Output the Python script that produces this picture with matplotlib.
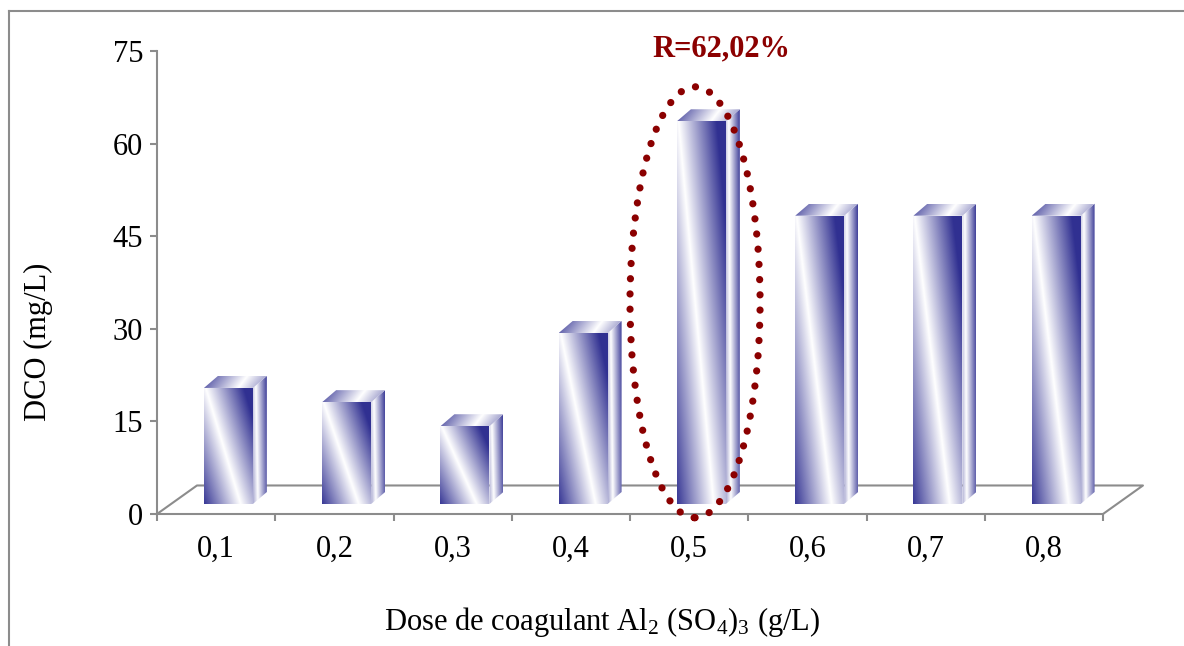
import numpy as np
import matplotlib.pyplot as plt
from matplotlib.patches import Polygon, Ellipse
from matplotlib.lines import Line2D

plt.rcParams['font.family'] = ['Liberation Serif', 'DejaVu Serif']
plt.rcParams['mathtext.fontset'] = 'custom'
plt.rcParams['mathtext.rm'] = 'Liberation Serif'
plt.rcParams['mathtext.it'] = 'Liberation Serif:italic'

# data
doses = ['0,1', '0,2', '0,3', '0,4', '0,5', '0,6', '0,7', '0,8']
dco = [18.8, 16.5, 12.6, 27.7, 62.0, 46.7, 46.7, 46.7]
yticks = [0, 15, 30, 45, 60, 75]
best = 4
best_label = 'R=62,02%'

gray = '#8c8c8c'
red = '#8b0000'
dark = np.array([0.19, 0.19, 0.57])


def shade(t):
    t = np.clip(t, 0, 1)[..., None]
    return 1 - t * (1 - dark)


def front_col(u, v):
    us = 0.75 - 0.72 * v
    return shade(np.abs(u - us) / 0.78)


def side_col(u, v):
    us = 0.35 - 0.15 * v
    return shade(np.abs(u - us) / 0.85)


def top_col(u, v):
    us = 0.7 - 0.1 * v
    return shade(np.abs(u - us) / 0.95)


def fill_grad(ax, p0, e1, e2, fn, z=3):
    p0 = np.array(p0, float); e1 = np.array(e1, float); e2 = np.array(e2, float)
    corners = np.array([p0, p0 + e1, p0 + e1 + e2, p0 + e2])
    xmin, ymin = corners.min(0)
    xmax, ymax = corners.max(0)
    X, Y = np.meshgrid(np.linspace(xmin, xmax, 120), np.linspace(ymin, ymax, 240))
    inv = np.linalg.inv(np.array([e1, e2]).T)
    dx = X - p0[0]
    dy = Y - p0[1]
    u = inv[0, 0] * dx + inv[0, 1] * dy
    v = inv[1, 0] * dx + inv[1, 1] * dy
    im = ax.imshow(fn(u, v), extent=[xmin, xmax, ymin, ymax], origin='lower',
                   aspect='auto', interpolation='bilinear', zorder=z)
    poly = Polygon(corners, closed=True, fc='none', ec='none')
    ax.add_patch(poly)
    im.set_clip_path(poly)


fig = plt.figure(figsize=(11.84, 6.46), dpi=100)
ax = fig.add_axes([157 / 1184, 132 / 646, 946 / 1184, 463 / 646])

# floor
fdx, fdy = 0.338, 4.62
n = len(doses)
ax.plot([0, fdx, n + fdx, n], [0, fdy, fdy, 0], color=gray, lw=1.5,
        clip_on=False, zorder=1)

# bars
left, width = 0.397, 0.414
ddx, ddy = 0.118, 1.94
base = 1.62
for i, val in enumerate(dco):
    x0 = i + left
    fill_grad(ax, (x0, base), (width, 0), (0, val), front_col)
    fill_grad(ax, (x0 + width, base), (ddx, ddy), (0, val), side_col)
    fill_grad(ax, (x0, base + val), (width, 0), (ddx, ddy), top_col)

# highlight
ell = Ellipse((best + 0.55, 34.3), 1.10, 69.8, fill=False, ec=red, lw=5.2,
              linestyle=(0, (0.01, 2.1)), capstyle='round', clip_on=False, zorder=6)
ax.add_patch(ell)
ax.text(best + 0.77, 75.3, best_label, color=red, fontsize=22, fontweight='bold',
        ha='center', va='center', clip_on=False)

ax.set_xlim(0, n)
ax.set_ylim(0, 75)
for s in ['top', 'right']:
    ax.spines[s].set_visible(False)
for s in ['left', 'bottom']:
    ax.spines[s].set_color(gray)
    ax.spines[s].set_linewidth(1.5)
ax.set_yticks(yticks)
ax.tick_params(axis='y', direction='out', length=5, width=1.5, color=gray,
               labelsize=22, pad=5)
ax.set_xticks(np.arange(n + 1))
ax.set_xticklabels([])
ax.tick_params(axis='x', which='major', direction='out', length=5, width=1.5, color=gray)
ax.set_xticks(np.arange(n) + 0.5, minor=True)
ax.set_xticklabels(doses, minor=True)
ax.tick_params(axis='x', which='minor', length=0, labelsize=22, pad=15)
ax.patch.set_alpha(0)

fig.text(38 / 1184, 1 - 342 / 646, 'DCO (mg/L)', rotation=90, fontsize=22,
         ha='center', va='center')
fig.text(602 / 1184, 1 - 622 / 646, r'Dose de coagulant Al$_2$ (SO$_4$)$_3$ (g/L)',
         fontsize=22, ha='center', va='center')

# outer frame
fig.add_artist(Line2D([9 / 1184, 9 / 1184], [0, 1 - 11 / 646], color=gray, lw=1.5))
fig.add_artist(Line2D([9 / 1184, 1], [1 - 11 / 646, 1 - 11 / 646], color=gray, lw=1.5))

fig.savefig('out.png', dpi=100)
